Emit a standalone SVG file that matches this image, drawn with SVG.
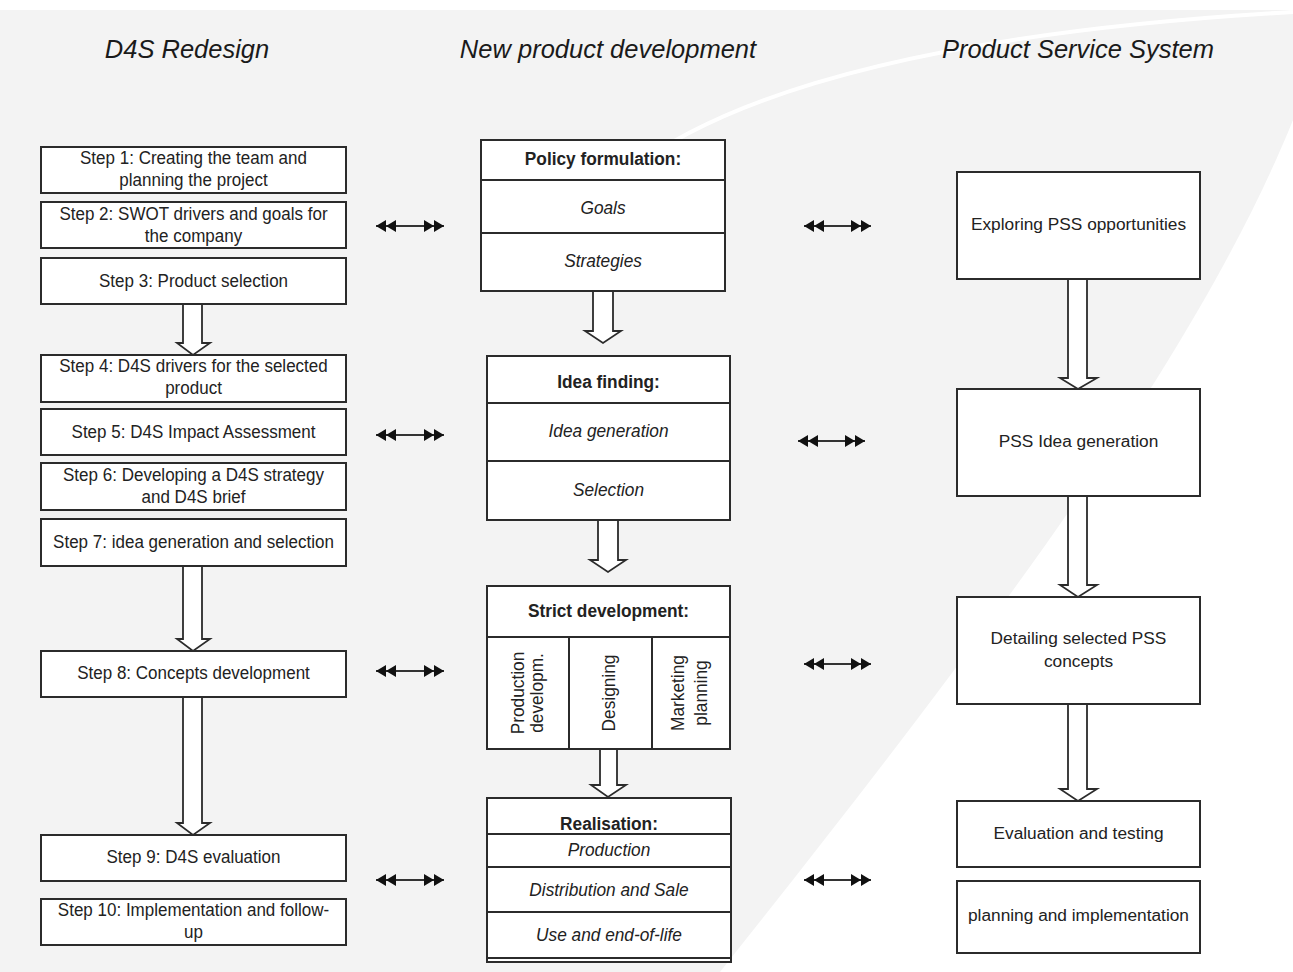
<svg xmlns="http://www.w3.org/2000/svg" width="1293" height="972" viewBox="0 0 1293 972">
<defs>
<style>
.box{fill:#fff;stroke:#2b2b2b;stroke-width:2}
.div{stroke:#2b2b2b;stroke-width:2;fill:none}
.barrow{fill:#fff;stroke:#2b2b2b;stroke-width:1.8;stroke-linejoin:miter}
.title{font-family:"Liberation Sans",Arial,sans-serif;font-style:italic;font-size:25.5px;fill:#1a1a1a;text-anchor:middle}
.t{font-family:"Liberation Sans",Arial,sans-serif;font-size:18.5px;fill:#222;text-anchor:middle}
.m{font-family:"Liberation Sans",Arial,sans-serif;font-size:18px;fill:#222;text-anchor:middle}
.b{font-weight:bold}
.i{font-style:italic}
.r{font-family:"Liberation Sans",Arial,sans-serif;font-size:17.3px;fill:#222;text-anchor:middle}
.conn{stroke:#333;stroke-width:2;fill:none;marker-start:url(#dbl);marker-end:url(#dbl)}
</style>
<marker id="dbl" viewBox="0 -7 20 14" markerWidth="20" markerHeight="14" refX="20" refY="0" orient="auto-start-reverse" markerUnits="userSpaceOnUse">
<path d="M0,-6 L10,0 L0,6 Z M10,-6 L20,0 L10,6 Z" fill="#111"/>
</marker>
</defs>

<g id="background">
<rect x="0" y="0" width="1293" height="972" fill="#ffffff"/>
<path d="M0,10 L1293,10 L1293,120 C1200,350 1000,620 720,972 L0,972 Z" fill="#f3f3f3"/>
<path d="M630,170 Q800,40 1293,12" fill="none" stroke="#ffffff" stroke-width="4"/>
</g>

<g id="titles">
<text class="title" x="187" y="58">D4S Redesign</text>
<text class="title" x="608" y="58">New product development</text>
<text class="title" x="1078" y="58">Product Service System</text>
</g>

<g id="connectors">
<line class="conn" x1="376" y1="226" x2="444" y2="226"/>
<line class="conn" x1="376" y1="435" x2="444" y2="435"/>
<line class="conn" x1="376" y1="671" x2="444" y2="671"/>
<line class="conn" x1="376" y1="880" x2="444" y2="880"/>
<line class="conn" x1="804" y1="226" x2="871" y2="226"/>
<line class="conn" x1="798" y1="441" x2="865" y2="441"/>
<line class="conn" x1="804" y1="664" x2="871" y2="664"/>
<line class="conn" x1="804" y1="880" x2="871" y2="880"/>
<path class="barrow" d="M183,304 L183,343 L177,343 L193,355 L210,343 L202,343 L202,304"/>
<path class="barrow" d="M183,566 L183,639 L177,639 L193,651 L210,639 L202,639 L202,566"/>
<path class="barrow" d="M183,697 L183,823 L177,823 L193,835 L210,823 L202,823 L202,697"/>
<path class="barrow" d="M593,291 L593,331 L585,331 L603,343 L621,331 L613,331 L613,291"/>
<path class="barrow" d="M598,520 L598,560 L590,560 L608,572 L626,560 L618,560 L618,520"/>
<path class="barrow" d="M600,749 L600,785 L591,785 L608,797 L626,785 L617,785 L617,749"/>
<path class="barrow" d="M1068,279 L1068,378 L1060,378 L1078,389 L1097,378 L1087,378 L1087,279"/>
<path class="barrow" d="M1068,496 L1068,585 L1060,585 L1078,597 L1097,585 L1087,585 L1087,496"/>
<path class="barrow" d="M1068,704 L1068,789 L1060,789 L1078,801 L1097,789 L1087,789 L1087,704"/>
</g>

<g id="step1"><rect class="box" x="41" y="147" width="305" height="46"/>
<g transform="translate(193.5,0) scale(0.92,1)"><text class="t" x="0" y="164">Step 1: Creating the team and</text><text class="t" x="0" y="186">planning the project</text></g></g>
<g id="step2"><rect class="box" x="41" y="202" width="305" height="46"/>
<g transform="translate(193.5,0) scale(0.92,1)"><text class="t" x="0" y="220">Step 2: SWOT drivers and goals for</text><text class="t" x="0" y="242">the company</text></g></g>
<g id="step3"><rect class="box" x="41" y="258" width="305" height="46"/>
<g transform="translate(193.5,0) scale(0.92,1)"><text class="t" x="0" y="287">Step 3: Product selection</text></g></g>
<g id="step4"><rect class="box" x="41" y="355" width="305" height="47"/>
<g transform="translate(193.5,0) scale(0.92,1)"><text class="t" x="0" y="372">Step 4: D4S drivers for the selected</text><text class="t" x="0" y="394">product</text></g></g>
<g id="step5"><rect class="box" x="41" y="409" width="305" height="46"/>
<g transform="translate(193.5,0) scale(0.92,1)"><text class="t" x="0" y="438">Step 5: D4S Impact Assessment</text></g></g>
<g id="step6"><rect class="box" x="41" y="463" width="305" height="47"/>
<g transform="translate(193.5,0) scale(0.92,1)"><text class="t" x="0" y="481">Step 6: Developing a D4S strategy</text><text class="t" x="0" y="503">and D4S brief</text></g></g>
<g id="step7"><rect class="box" x="41" y="519" width="305" height="47"/>
<g transform="translate(193.5,0) scale(0.92,1)"><text class="t" x="0" y="548">Step 7: idea generation and selection</text></g></g>
<g id="step8"><rect class="box" x="41" y="651" width="305" height="46"/>
<g transform="translate(193.5,0) scale(0.92,1)"><text class="t" x="0" y="679">Step 8: Concepts development</text></g></g>
<g id="step9"><rect class="box" x="41" y="835" width="305" height="46"/>
<g transform="translate(193.5,0) scale(0.92,1)"><text class="t" x="0" y="863">Step 9: D4S evaluation</text></g></g>
<g id="step10"><rect class="box" x="41" y="899" width="305" height="46"/>
<g transform="translate(193.5,0) scale(0.92,1)"><text class="t" x="0" y="916">Step 10: Implementation and follow-</text><text class="t" x="0" y="938">up</text></g></g>

<g id="policy"><rect class="box" x="481" y="140" width="244" height="151"/>
<line class="div" x1="481" y1="180" x2="725" y2="180"/><line class="div" x1="481" y1="233" x2="725" y2="233"/>
<g transform="translate(603,0) scale(0.96,1)"><text class="m b" x="0" y="165">Policy formulation:</text><text class="m i" x="0" y="214">Goals</text><text class="m i" x="0" y="267">Strategies</text></g></g>

<g id="idea"><rect class="box" x="487" y="356" width="243" height="164"/>
<line class="div" x1="487" y1="403" x2="730" y2="403"/><line class="div" x1="487" y1="461" x2="730" y2="461"/>
<g transform="translate(608.5,0) scale(0.96,1)"><text class="m b" x="0" y="388">Idea finding:</text><text class="m i" x="0" y="437">Idea generation</text><text class="m i" x="0" y="496">Selection</text></g></g>

<g id="strict"><rect class="box" x="487" y="586" width="243" height="163"/>
<line class="div" x1="487" y1="637" x2="730" y2="637"/><line class="div" x1="569" y1="637" x2="569" y2="749"/><line class="div" x1="652" y1="637" x2="652" y2="749"/>
<g transform="translate(608.5,0) scale(0.96,1)"><text class="m b" x="0" y="617">Strict development:</text></g>
<g transform="translate(528,693) rotate(-90) scale(0.96,1)"><text class="m" x="0" y="-4">Production</text><text class="m" x="0" y="15">developm.</text></g>
<g transform="translate(610,693) rotate(-90) scale(0.96,1)"><text class="m" x="0" y="5">Designing</text></g>
<g transform="translate(692,693) rotate(-90) scale(0.96,1)"><text class="m" x="0" y="-8">Marketing</text><text class="m" x="0" y="15">planning</text></g></g>

<g id="realisation"><rect class="box" x="487" y="798" width="244" height="164"/>
<line class="div" x1="487" y1="834" x2="731" y2="834"/><line class="div" x1="487" y1="867" x2="731" y2="867"/><line class="div" x1="487" y1="912" x2="731" y2="912"/><line class="div" x1="487" y1="958" x2="731" y2="958"/>
<g transform="translate(609,0) scale(0.96,1)"><text class="m b" x="0" y="830">Realisation:</text><text class="m i" x="0" y="856">Production</text><text class="m i" x="0" y="896">Distribution and Sale</text><text class="m i" x="0" y="941">Use and end-of-life</text></g></g>

<g id="pss1"><rect class="box" x="957" y="172" width="243" height="107"/><text class="r" x="1078.5" y="230">Exploring PSS opportunities</text></g>
<g id="pss2"><rect class="box" x="957" y="389" width="243" height="107"/><text class="r" x="1078.5" y="447">PSS Idea generation</text></g>
<g id="pss3"><rect class="box" x="957" y="597" width="243" height="107"/><text class="r" x="1078.5" y="644">Detailing selected PSS</text><text class="r" x="1078.5" y="667">concepts</text></g>
<g id="pss4"><rect class="box" x="957" y="801" width="243" height="66"/><text class="r" x="1078.5" y="839">Evaluation and testing</text></g>
<g id="pss5"><rect class="box" x="957" y="881" width="243" height="72"/><text class="r" x="1078.5" y="921">planning and implementation</text></g>
</svg>
